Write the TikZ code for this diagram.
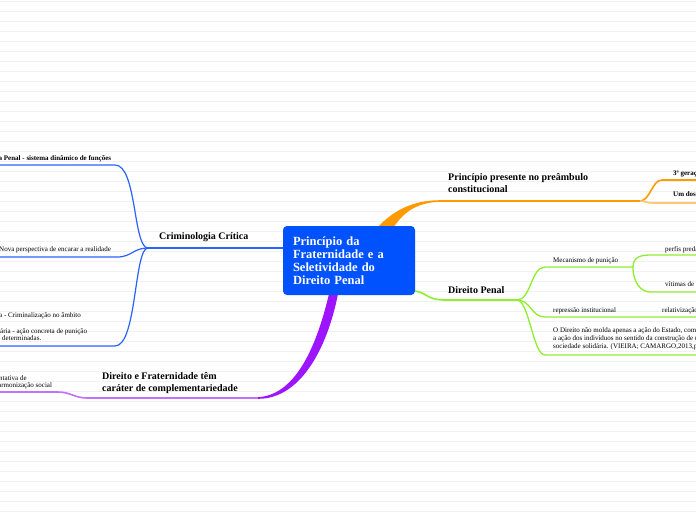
\documentclass[tikz,border=0pt]{standalone}
\usepackage{fontspec}
\setmainfont{Liberation Serif}
\usepackage{xcolor}
\usepackage{tikz}
\definecolor{mapblue}{HTML}{0052FF}
\definecolor{critblue}{HTML}{2A62FF}
\definecolor{pregorange}{HTML}{FF9A00}
\definecolor{preglight}{HTML}{FFC670}
\definecolor{penalgreen}{HTML}{8FEE2E}
\definecolor{fratpurple}{HTML}{9D14FF}
\definecolor{fratlight}{HTML}{C271FF}
\definecolor{ruleline}{HTML}{F1F1F1}

\begin{document}
\begin{tikzpicture}[x=1pt, y=-1pt,
    topic/.style={font=\fontsize{10}{12}\selectfont\bfseries, anchor=base west,
      inner sep=0pt, align=left},
    note/.style={font=\fontsize{7}{8}\selectfont, anchor=base west,
      inner sep=0pt, align=left},
    notebold/.style={note, font=\fontsize{7}{8}\selectfont\bfseries},
    centrebox/.style={fill=mapblue, rounded corners=4pt, text=white,
      font=\fontsize{12.5}{13}\selectfont\bfseries, align=left,
      minimum width=132pt, minimum height=69pt, text width=112pt,
      inner xsep=10pt, inner ysep=0pt},
    critline/.style={draw=critblue, line width=1.2pt},
    penline/.style={draw=penalgreen, line width=1.3pt},
    pregline/.style={draw=pregorange, line width=1.6pt},
    fratline/.style={draw=fratlight, line width=1.6pt}
  ]
    \useasboundingbox (0,0) rectangle (696,520);
    \fill[white] (0,0) rectangle (696,520);
    \clip (0,0) rectangle (696,520);
    \foreach \y in {1.5,11.5,...,511.5}
      \draw[ruleline, line width=.8pt] (0,\y) -- (696,\y);

    \coordinate (crit) at (148,248);
    \coordinate (critR) at (284,248);
    \coordinate (sisR) at (115,165);
    \coordinate (sisL) at (-2,165);
    \coordinate (novaR) at (117,257);
    \coordinate (novaL) at (-2,257);
    \coordinate (crimR) at (115,346);
    \coordinate (crimL) at (-2,346);

    \coordinate (penalL) at (412,291);
    \coordinate (penal) at (517,300);
    \coordinate (mecL) at (545,267);
    \coordinate (mec) at (633,267);
    \coordinate (perfisL) at (652,255);
    \coordinate (perfisR) at (698,255);
    \coordinate (vitL) at (650,292);
    \coordinate (vitR) at (698,292);
    \coordinate (repL) at (545,317);
    \coordinate (repR) at (698,317);
    \coordinate (dirL) at (545,355);
    \coordinate (dirR) at (698,355);

    \coordinate (pregL) at (438,201);
    \coordinate (preg) at (640,201);
    \coordinate (geracaoL) at (662,180);
    \coordinate (geracaoR) at (698,180);
    \coordinate (umL) at (652,203);
    \coordinate (umR) at (698,203);

    \coordinate (fratR) at (258,398);
    \coordinate (frat) at (88,398);
    \coordinate (harmR) at (57,392);
    \coordinate (harmL) at (-2,392);

    \draw[critline, line width=1.6pt] (crit) -- (critR);
    \draw[critline] (crit) .. controls +(-15,0) and +(22,0) .. (sisR) -- (sisL);
    \draw[critline] (crit) .. controls +(-15,0) and +(15,0) .. (novaR) -- (novaL);
    \draw[critline] (crit) .. controls +(-14,0) and +(22,0) .. (crimR) -- (crimL);

    \draw[penline, line width=1.6pt] (penalL) .. controls +(15,0) and +(-20,0)
      .. (445,300) -- (penal);
    \draw[penline] (penal) .. controls +(14,0) and +(-14,0) .. (mecL) -- (mec);
    \draw[penline] (mec) .. controls +(0,-11) and +(-10,0) .. (perfisL) -- (perfisR);
    \draw[penline] (mec) .. controls +(0,17) and +(-8,0) .. (vitL) -- (vitR);
    \draw[penline] (penal) .. controls +(14,0) and +(-14,0) .. (repL) -- (repR);
    \draw[penline] (penal) .. controls +(12,0) and +(-12,0) .. (dirL) -- (dirR);

    \fill[pregorange] (375,230) .. controls (392,211) and (412,200.2) .. (440,200.2)
      -- (440,201.8) .. controls (416,202.5) and (402,213) .. (392,230) -- cycle;
    \draw[pregline] (pregL) -- (preg);
    \draw[pregline] (preg) .. controls +(10,0) and +(-10,0) .. (geracaoL) -- (geracaoR);
    \draw[pregline, draw=preglight] (preg) .. controls +(5,0) and +(-5,0) .. (umL) -- (umR);

    \fill[fratpurple] (329,294) .. controls (318,340) and (298,395) .. (258,397.2)
      -- (258,398.8) .. controls (302,399) and (328,345) .. (338,294) -- cycle;
    \draw[fratline] (fratR) -- (frat);
    \draw[fratline] (frat) .. controls +(-15,0) and +(15,0) .. (harmR) -- (harmL);

    \node[centrebox] (centre) at (349,260.5)
      {Princípio da\\Fraternidade e a\\Seletividade do\\Direito Penal};

    \node[topic] (pregtxt) at (448,192) {Princípio presente no preâmbulo\\constitucional};
    \node[notebold] (geracao) at (673,175) {3ª geração};
    \node[notebold] (umdos) at (673,196) {Um dos};

    \node[topic] (penaltxt) at (448,293) {Direito Penal};
    \node[note] (mectxt) at (553,262) {Mecanismo de punição};
    \node[note] (perfis) at (665,251) {perfis preda};
    \node[note] (vitimas) at (665,286) {vítimas de};
    \node[note] (reptxt) at (553,312) {repressão institucional};
    \node[note] (relat) at (662,312) {relativização};
    \node[note] (dirtxt) at (553,348)
      {O Direito não molda apenas a ação do Estado, com\\
       a ação dos indivíduos no sentido da construção de u\\
       sociedade solidária. (VIEIRA; CAMARGO,2013,p};

    \node[topic] (crittxt) at (159,239) {Criminologia Crítica};
    \node[notebold] (sistxt) at (-1.5,160) {a Penal - sistema dinâmico de funções};
    \node[note] (novatxt) at (-1,251) {Nova perspectiva de encarar a realidade};
    \node[note] (crimtxt) at (-1,317) {a - Criminalização no âmbito};
    \node[note] (acaotxt) at (0,333) {ária - ação concreta de punição};
    \node[note] (determ) at (2,340) {determinadas.};

    \node[topic] (frattxt) at (102,391) {Direito e Fraternidade têm\\caráter de complementariedade};
    \node[note] (harmtxt) at (-1,380) {ntativa de};
    \node[note] (harm2txt) at (-2,387.5) {armonização social};
\end{tikzpicture}
\end{document}
